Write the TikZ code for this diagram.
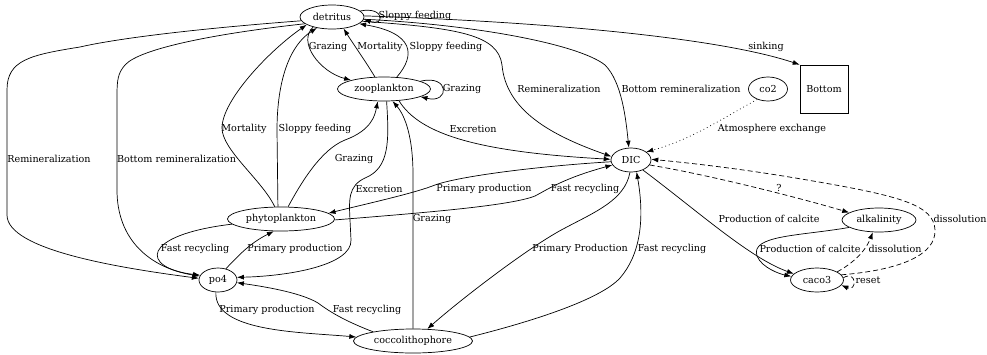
\documentclass[tikz,border=0pt]{standalone}
\usepackage{fontspec}
\setmainfont{DejaVu Serif}
\usetikzlibrary{arrows.meta,shapes.geometric}

\begin{document}
\begin{tikzpicture}[x=1pt,y=-1pt,
		font=\fontsize{9.6}{11}\selectfont,
		pool/.style={ellipse,draw,line width=0.7pt,inner sep=0pt,minimum height=24pt},
		flow/.style={-{Latex[length=7pt,width=5pt]},line width=0.7pt},
		soft/.style={dash pattern=on 5pt off 3pt},
		air/.style={dash pattern=on 0.8pt off 3pt},
		lbl/.style={inner sep=0pt}]
		\useasboundingbox (0,0) rectangle (987,354);
		% pools
		\node[pool,minimum width=64pt] (det) at (332,17) {detritus};
		\node[pool,minimum width=93pt] (zoo) at (384,89) {zooplankton};
		\node[pool,minimum width=40pt] (dic) at (631,160) {DIC};
		\node[pool,minimum width=39pt] (co2) at (768,89) {co2};
		\node[draw,line width=0.7pt,minimum size=48pt,inner sep=0pt] (bot) at (824,89) {Bottom};
		\node[pool,minimum width=107pt] (phy) at (281,219) {phytoplankton};
		\node[pool,minimum width=38pt] (po4) at (218,280) {po4};
		\node[pool,minimum width=119pt] (coc) at (413,341) {coccolithophore};
		\node[pool,minimum width=74pt] (alk) at (879,220) {alkalinity};
		\node[pool,minimum width=53pt] (cac) at (817,280) {caco3};
		% fluxes
		\draw[flow] (det.12) .. controls (385,6) and (385,27) .. (det.-4);
		\draw[flow] (det.208) .. controls (297,42) and (320,72) .. (zoo.165);
		\draw[flow] (zoo.127) .. controls (366,62) and (352,42) .. (det.-45);
		\draw[flow] (zoo.43) .. controls (416,55) and (414,33) .. (det.-14);
		\draw[flow] (zoo.12) .. controls (450,74) and (450,104) .. (zoo.-12);
		\draw[flow] (det.187) .. controls (180,30) and (110,40) .. (80,47) .. controls (30,55) and (7,60) .. (7,90) -- (7,215) .. controls (7,250) and (120,268) .. (po4.175);
		\draw[flow] (det.194) .. controls (220,33) and (140,48) .. (125,65) .. controls (118,73) and (117,80) .. (117,95) -- (117,190) .. controls (117,240) and (150,268) .. (po4.168);
		\draw[flow] (phy.117) .. controls (262,180) and (222,150) .. (222,128) .. controls (222,100) and (270,50) .. (det.197);
		\draw[flow] (phy.104) -- (277,130) .. controls (277,80) and (290,45) .. (det.216);
		\draw[flow] (phy.60) .. controls (300,185) and (320,150) .. (345,140) .. controls (372,130) and (375,115) .. (zoo.-117);
		\draw[flow] (zoo.-78) .. controls (389,140) and (390,168) .. (365,178) .. controls (348,186) and (349,200) .. (350,220) -- (351,240) .. controls (352,265) and (290,276) .. (po4.8);
		\draw[flow] (zoo.-38) .. controls (420,135) and (480,152) .. (dic.178);
		\draw[flow] (coc.90) -- (413,175) .. controls (413,130) and (402,112) .. (zoo.-55);
		\draw[flow] (det.-8) .. controls (460,28) and (498,35) .. (502,65) .. controls (506,110) and (550,135) .. (dic.170);
		\draw[flow] (det.-4) .. controls (480,25) and (580,45) .. (605,65) .. controls (622,82) and (626,120) .. (dic.100);
		\draw[flow] (det.2) .. controls (550,22) and (720,38) .. (bot.north west);
		\draw[flow,air] (co2.224) .. controls (720,120) and (690,140) .. (dic.28);
		\draw[flow] (dic.185) .. controls (540,166) and (460,176) .. (435,185) .. controls (415,193) and (370,203) .. (phy.7);
		\draw[flow] (phy.-1) .. controls (420,213) and (510,206) .. (535,196) .. controls (550,188) and (565,178) .. (dic.195);
		\draw[flow] (phy.186) .. controls (140,235) and (140,268) .. (po4.165);
		\draw[flow] (po4.55) .. controls (238,256) and (250,243) .. (phy.-120);
		\draw[flow] (po4.-100) .. controls (214,332) and (300,332) .. (coc.176);
		\draw[flow] (coc.167) .. controls (345,321) and (330,312) .. (318,303) .. controls (300,292) and (260,286) .. (po4.-8);
		\draw[flow] (dic.-95) .. controls (625,200) and (595,212) .. (565,228) .. controls (530,246) and (460,300) .. (coc.40);
		\draw[flow] (coc.4) .. controls (530,322) and (600,300) .. (620,278) .. controls (640,255) and (645,220) .. (dic.-65);
		\draw[flow] (dic.-40) .. controls (700,213) and (750,258) .. (cac.165);
		\draw[flow] (alk.194) .. controls (800,236) and (750,235) .. (757,256) .. controls (762,268) and (780,274) .. (cac.172);
		\draw[flow,soft] (dic.-15) .. controls (710,175) and (800,198) .. (alk.166);
		\draw[flow,soft] (cac.12) .. controls (900,270) and (936,255) .. (935,230) .. controls (934,205) and (900,196) .. (813,181) .. controls (750,170) and (700,164) .. (dic.2);
		\draw[flow,soft] (cac.22) .. controls (855,262) and (866,250) .. (alk.-117);
		\draw[flow,soft] (cac.5) .. controls (857,270) and (857,292) .. (cac.-12);
		% labels
		\node[lbl] (e1) at (415,16) {Sloppy feeding};
		\node[lbl] (e2) at (328,47) {Grazing};
		\node[lbl] (e3) at (380,47) {Mortality};
		\node[lbl] (e4) at (446,47) {Sloppy feeding};
		\node[lbl] (e5) at (462,89) {Grazing};
		\node[lbl] (e6) at (49,159) {Remineralization};
		\node[lbl] (e7) at (176.5,159) {Bottom remineralization};
		\node[lbl] (e8) at (244,129) {Mortality};
		\node[lbl] (e9) at (315,129) {Sloppy feeding};
		\node[lbl] (e10) at (354,159) {Grazing};
		\node[lbl] (e11) at (379,189) {Excretion};
		\node[lbl] (e12) at (473,129) {Excretion};
		\node[lbl] (e13) at (432,219) {Grazing};
		\node[lbl] (e14) at (559,89) {Remineralization};
		\node[lbl] (e15) at (681,89) {Bottom remineralization};
		\node[lbl] (e16) at (766,47) {sinking};
		\node[lbl] (e17) at (772,129) {Atmosphere exchange};
		\node[lbl] (e18) at (484,189) {Primary production};
		\node[lbl] (e19) at (585,189) {Fast recycling};
		\node[lbl] (e20) at (195,249) {Fast recycling};
		\node[lbl] (e21) at (295,249) {Primary production};
		\node[lbl] (e22) at (267,310) {Primary production};
		\node[lbl] (e23) at (367,310) {Fast recycling};
		\node[lbl] (e24) at (580,249) {Primary Production};
		\node[lbl] (e25) at (672,249) {Fast recycling};
		\node[lbl] (e26) at (769,219) {Production of calcite};
		\node[lbl] (e27) at (810,249) {Production of calcite};
		\node[lbl] (e28) at (779,188) {?};
		\node[lbl] (e29) at (960,219) {dissolution};
		\node[lbl] (e30) at (895,249) {dissolution};
		\node[lbl] (e31) at (868,280) {reset};
	\end{tikzpicture}
\end{document}
